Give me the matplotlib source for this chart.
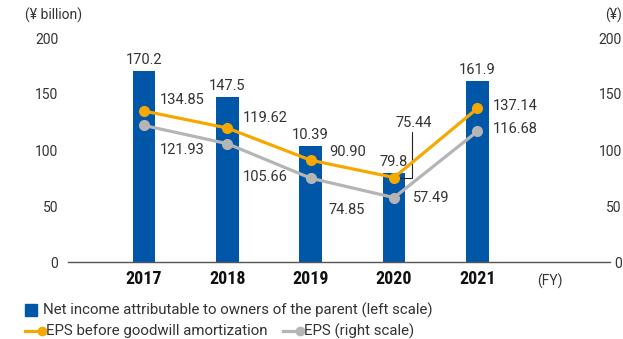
import matplotlib.pyplot as plt
from matplotlib.lines import Line2D
from matplotlib.patches import Rectangle

# ---- data ----
years = ["2017", "2018", "2019", "2020", "2021"]
net_income = [170.2, 147.5, 103.9, 79.8, 161.9]
net_income_labels = ["170.2", "147.5", "10.39", "79.8", "161.9"]
eps_before_gw = [134.85, 119.62, 90.90, 75.44, 137.14]
eps = [121.93, 105.66, 74.85, 57.49, 116.68]
y_ticks = [0, 50, 100, 150, 200]

BLUE = "#0057a8"
ORANGE = "#f5a800"
GREY = "#b5b5b5"
TEXT = "#333333"
FS = 10.5
LEG_FS = 10.8

plt.rcParams["font.family"] = ["Roboto", "DejaVu Sans"]

fig = plt.figure(figsize=(6.23, 3.39), dpi=100)
ax = fig.add_axes([68 / 623, 77 / 339, 542 / 623, 224 / 339])
ax2 = ax.twinx()

x = list(range(len(years)))
ax.bar(x, net_income, width=0.27, color=BLUE, zorder=2)
ax2.plot(x, eps, color=GREY, lw=2.3, marker="o", ms=7, zorder=3)
ax2.plot(x, eps_before_gw, color=ORANGE, lw=2.3, marker="o", ms=7, zorder=4)

for a in (ax, ax2):
    a.set_xlim(-0.91, 5.59)
    a.set_ylim(0, 200)
    a.set_yticks(y_ticks)
    for s in a.spines.values():
        s.set_visible(False)
    a.tick_params(length=0, labelsize=10, labelcolor=TEXT)
ax.spines["bottom"].set_visible(True)
ax.spines["bottom"].set_color("#555555")
ax.spines["bottom"].set_linewidth(1)
ax.tick_params(axis="y", pad=7)
for lbl in ax2.get_yticklabels():
    lbl.set_horizontalalignment("right")
ax2.tick_params(axis="y", pad=8.5)

ax.set_xticks(x)
ax.set_xticklabels(years, fontsize=13, fontweight="bold", color="#111111",
                   family="Roboto Condensed")
ax.tick_params(axis="x", pad=6)

# bar value labels
for i, (v, t) in enumerate(zip(net_income, net_income_labels)):
    ax.annotate(t, (i, v), xytext=(0, 4), textcoords="offset pixels",
                ha="center", va="bottom", fontsize=FS, color=TEXT)

# EPS before goodwill labels (right of point, above)
orange_off = [(16, 11), (16, 10), (19, 8), None, (15, 2)]
for i, v in enumerate(eps_before_gw):
    off = orange_off[i]
    if off is None:
        continue
    ax2.annotate(f"{v:.2f}", (i, v), xytext=off, textcoords="offset pixels",
                 ha="left", va="center", fontsize=FS, color=TEXT)
# 2020 label with leader line
ax2.annotate(f"{eps_before_gw[3]:.2f}", (3, eps_before_gw[3]), xytext=(1, 55),
             textcoords="offset pixels", ha="left", va="center",
             fontsize=FS, color=TEXT)
ax2.annotate("", (3, eps_before_gw[3]), xytext=(18, 46), textcoords="offset pixels",
             arrowprops=dict(arrowstyle="-", color="#222222", lw=0.8,
                             shrinkA=0, shrinkB=0,
                             connectionstyle="angle,angleA=90,angleB=0,rad=0"))

# EPS labels
grey_off = [(16, -25), (16, -33), (18, -32), (19, 0), (15, 2)]
for i, v in enumerate(eps):
    ax2.annotate(f"{v:.2f}", (i, v), xytext=grey_off[i], textcoords="offset pixels",
                 ha="left", va="center", fontsize=FS, color=TEXT)

# unit labels
fig.text(25 / 623, 1 - 15 / 339, "(¥ billion)", fontsize=10, color=TEXT,
         ha="left", va="center")
fig.text(622 / 623, 1 - 15 / 339, "(¥)", fontsize=10, color=TEXT,
         ha="right", va="center")
fig.text(550 / 623, 1 - 281 / 339, "(FY)", fontsize=10, color=TEXT,
         ha="center", va="center")

# legend
fig.patches.append(Rectangle((25 / 623, 1 - 316 / 339), 12 / 623, 12 / 339,
                             transform=fig.transFigure, color=BLUE))
fig.text(43 / 623, 1 - 310 / 339,
         "Net income attributable to owners of the parent (left scale)",
         fontsize=LEG_FS, color=TEXT, ha="left", va="center")
for x0, col, label in [(25, ORANGE, "EPS before goodwill amortization"),
                       (283, GREY, "EPS (right scale)")]:
    fig.lines.append(Line2D([x0 / 623, (x0 + 17) / 623], [1 - 331 / 339] * 2,
                            transform=fig.transFigure, color=col, lw=2.3,
                            marker="o", ms=6, markevery=[1]))
    fig.text((x0 + 21) / 623, 1 - 331 / 339, label, fontsize=LEG_FS, color=TEXT,
             ha="left", va="center")

fig.savefig("out.png", dpi=100)
